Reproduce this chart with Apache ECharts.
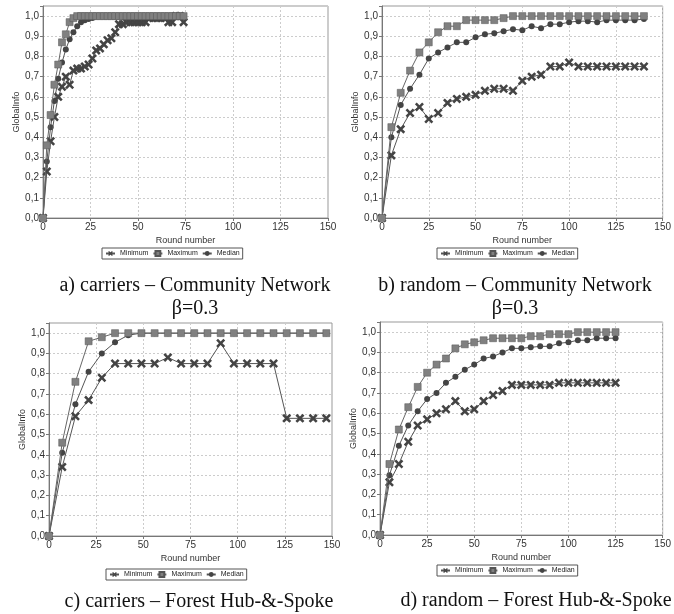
<!DOCTYPE html>
<html>
<head>
<meta charset="utf-8">
<script src="https://cdn.jsdelivr.net/npm/echarts@6/dist/echarts.min.js"></script>
<style>
  html, body { margin: 0; padding: 0; background: #fff; }
  #main { width: 674px; height: 614px; }
</style>
</head>
<body>
<div id="main"></div>
<script>
// a) carriers - Community Network
var roundsA = [0,2,4,6,8,10,12,14,16,18,20,22,24,26,28,30,32,34,36,38,40,42,44,46,48,50,52,54,56,58,60,62,64,66,68,70,72,74];
var minA = [0,0.23,0.38,0.50,0.60,0.65,0.70,0.66,0.73,0.74,0.74,0.75,0.76,0.79,0.83,0.84,0.86,0.88,0.89,0.92,0.96,0.96,0.97,0.97,0.97,0.97,0.97,0.97,0.99,0.99,0.99,0.99,0.99,0.97,0.97,1.0,1.0,0.97];
var maxA = [0,0.36,0.51,0.66,0.76,0.87,0.91,0.97,0.99,1,1,1,1,1,1,1,1,1,1,1,1,1,1,1,1,1,1,1,1,1,1,1,1,1,1,1,1,1];
var medA = [0,0.28,0.45,0.58,0.69,0.77,0.835,0.885,0.92,0.95,0.97,0.98,0.985,0.99,1,1,1,1,1,1,1,1,1,1,1,1,1,1,1,1,1,1,1,1,1,1,1,1];

// b) random - Community Network
var roundsB = [0,5,10,15,20,25,30,35,40,45,50,55,60,65,70,75,80,85,90,95,100,105,110,115,120,125,130,135,140];
var minB = [0,0.31,0.44,0.52,0.55,0.49,0.52,0.57,0.59,0.60,0.61,0.63,0.64,0.64,0.63,0.68,0.70,0.71,0.75,0.75,0.77,0.75,0.75,0.75,0.75,0.75,0.75,0.75,0.75];
var maxB = [0,0.45,0.62,0.73,0.82,0.87,0.92,0.95,0.95,0.98,0.98,0.98,0.98,0.99,1,1,1,1,1,1,1,1,1,1,1,1,1,1,1];
var medB = [0,0.40,0.56,0.64,0.71,0.79,0.82,0.845,0.87,0.87,0.895,0.91,0.915,0.925,0.935,0.93,0.95,0.94,0.96,0.96,0.97,0.975,0.975,0.97,0.98,0.98,0.98,0.98,0.985];

// c) carriers - Forest Hub-&-Spoke
var roundsC = [0,7,14,21,28,35,42,49,56,63,70,77,84,91,98,105,112,119,126,133,140,147];
var minC = [0,0.34,0.59,0.67,0.78,0.85,0.85,0.85,0.85,0.88,0.85,0.85,0.85,0.95,0.85,0.85,0.85,0.85,0.58,0.58,0.58,0.58];
var maxC = [0,0.46,0.76,0.96,0.98,1,1,1,1,1,1,1,1,1,1,1,1,1,1,1,1,1];
var medC = [0,0.41,0.65,0.81,0.90,0.955,0.99,1,1,1,1,1,1,1,1,1,1,1,1,1,1,1];

// d) random - Forest Hub-&-Spoke
var roundsD = [0,5,10,15,20,25,30,35,40,45,50,55,60,65,70,75,80,85,90,95,100,105,110,115,120,125];
var minD = [0,0.26,0.35,0.46,0.54,0.57,0.60,0.62,0.66,0.61,0.62,0.66,0.69,0.71,0.74,0.74,0.74,0.74,0.74,0.75,0.75,0.75,0.75,0.75,0.75,0.75];
var maxD = [0,0.35,0.52,0.63,0.73,0.80,0.84,0.87,0.92,0.94,0.95,0.96,0.97,0.97,0.97,0.97,0.98,0.98,0.99,0.99,0.99,1,1,1,1,1];
var medD = [0,0.295,0.44,0.54,0.61,0.67,0.70,0.75,0.78,0.815,0.84,0.87,0.88,0.90,0.92,0.92,0.925,0.93,0.93,0.945,0.95,0.96,0.96,0.97,0.97,0.97];

var seriesNames = ['Minimum','Maximum','Median'];

var captions = [
  {text: 'a) carriers \u2013 Community Network\n\u03b2=0.3', x: 190, y: 269},
  {text: 'b) random \u2013 Community Network\n\u03b2=0.3', x: 510, y: 269},
  {text: 'c) carriers \u2013 Forest Hub-&-Spoke', x: 194, y: 585},
  {text: 'd) random \u2013 Forest Hub-&-Spoke', x: 531, y: 584}
];

var panels = [
  {rounds: roundsA, min: minA, max: maxA, med: medA, grid: {left: 43, top: 6, width: 285, height: 212}, legend: {left: 102, top: 248}},
  {rounds: roundsB, min: minB, max: maxB, med: medB, grid: {left: 382, top: 6, width: 284, height: 212}, legend: {left: 437, top: 248}},
  {rounds: roundsC, min: minC, max: maxC, med: medC, grid: {left: 49, top: 323, width: 283, height: 213}, legend: {left: 106, top: 569}},
  {rounds: roundsD, min: minD, max: maxD, med: medD, grid: {left: 380, top: 322, width: 284, height: 213}, legend: {left: 437, top: 565}}
];

function pairs(xs, ys) {
  return xs.map(function (x, i) { return [x, ys[i]]; });
}

var crossPath = 'path://M2,0 L5,3 L8,0 L10,2 L7,5 L10,8 L8,10 L5,7 L2,10 L0,8 L3,5 L0,2 Z';
var labelFont = 'Liberation Sans, Arial, sans-serif';

var grids = [], xAxes = [], yAxes = [], legends = [], series = [], titles = [];

panels.forEach(function (p, i) {
  grids.push(Object.assign({show: true, borderColor: '#999', borderWidth: 1, backgroundColor: '#fff'}, p.grid));
  xAxes.push({
    type: 'value', gridIndex: i, min: 0, max: 150, interval: 25,
    name: 'Round number', nameLocation: 'middle', nameGap: 18,
    nameTextStyle: {fontSize: 9, color: '#333', fontFamily: labelFont},
    axisLine: {show: true, lineStyle: {color: '#777'}},
    axisTick: {show: true, length: 3, lineStyle: {color: '#777'}},
    axisLabel: {fontSize: 10, color: '#333', margin: 4, fontFamily: labelFont},
    splitLine: {show: true, lineStyle: {color: '#ccc', type: [2, 2]}}
  });
  yAxes.push({
    type: 'value', gridIndex: i, min: 0, max: 1.05, interval: 0.1,
    name: 'GlobalInfo', nameLocation: 'middle', nameGap: 19,
    nameTextStyle: {fontSize: 9, color: '#333', fontFamily: labelFont},
    axisLine: {show: true, lineStyle: {color: '#777'}},
    axisTick: {show: true, length: 3, lineStyle: {color: '#777'}},
    axisLabel: {
      fontSize: 10, color: '#333', margin: 4, fontFamily: labelFont,
      formatter: function (v) {
        var r = Math.round(v * 10);
        if (Math.abs(v * 10 - r) > 1e-6) return '';
        return (r / 10).toFixed(1).replace('.', ',');
      }
    },
    splitLine: {show: true, lineStyle: {color: '#ccc', type: [2, 2]}}
  });
  legends.push({
    data: seriesNames, left: p.legend.left, top: p.legend.top,
    orient: 'horizontal', itemWidth: 9, itemHeight: 6, itemGap: 4,
    padding: [2, 3], borderColor: '#555', borderWidth: 1,
    textStyle: {fontSize: 7, color: '#222', fontFamily: labelFont}
  });
  series.push({
    name: 'Minimum', type: 'line', xAxisIndex: i, yAxisIndex: i,
    data: pairs(p.rounds, p.min), symbol: crossPath, symbolSize: 9,
    lineStyle: {color: '#555', width: 1}, itemStyle: {color: '#444'}, z: 3
  });
  series.push({
    name: 'Maximum', type: 'line', xAxisIndex: i, yAxisIndex: i,
    data: pairs(p.rounds, p.max), symbol: 'rect', symbolSize: 7,
    lineStyle: {color: '#666', width: 1}, itemStyle: {color: '#808080', borderColor: '#555', borderWidth: 0.5}, z: 4
  });
  series.push({
    name: 'Median', type: 'line', xAxisIndex: i, yAxisIndex: i,
    data: pairs(p.rounds, p.med), symbol: 'circle', symbolSize: 6,
    lineStyle: {color: '#555', width: 1}, itemStyle: {color: '#444'}, z: 2
  });
});

captions.forEach(function (c) {
  titles.push({
    text: c.text, left: c.x, top: c.y, textAlign: 'center',
    textStyle: {fontFamily: 'Liberation Serif, serif', fontWeight: 'normal', fontSize: 20, color: '#111', lineHeight: 23}
  });
});

var chart = echarts.init(document.getElementById('main'), null, {renderer: 'canvas'});
chart.setOption({
  backgroundColor: '#fff',
  animation: false,
  title: titles,
  grid: grids,
  xAxis: xAxes,
  yAxis: yAxes,
  legend: legends,
  series: series
});
</script>
</body>
</html>
